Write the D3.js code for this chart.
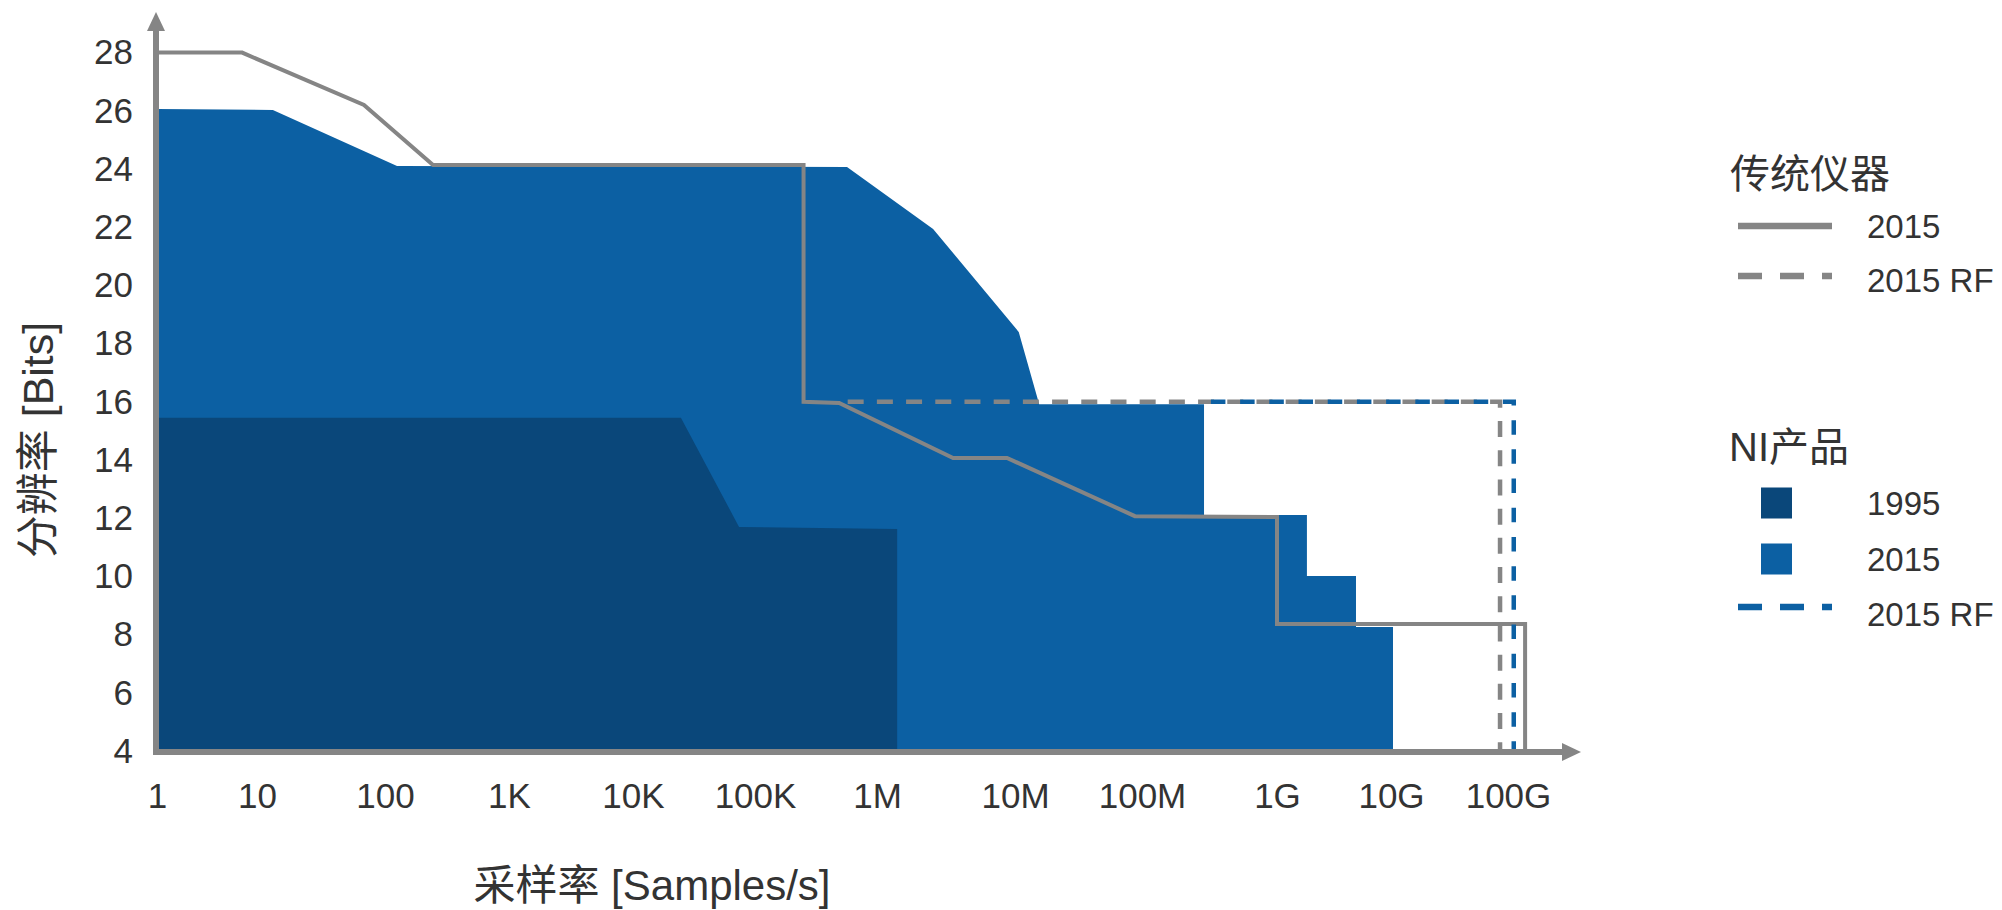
<!DOCTYPE html>
<html><head><meta charset="utf-8">
<script src="https://cdn.jsdelivr.net/npm/d3@7"></script>
<style>
body{margin:0;background:#fff}
svg text{font-family:"Liberation Sans","Noto Sans CJK SC",Arial,sans-serif;fill:#333}
</style>
</head><body>
<svg id="chart" width="2002" height="910"></svg>
<script>
// ---------- data ----------
const xTickRates  = [1, 10, 100, 1e3, 1e4, 1e5, 1e6, 1e7, 1e8, 1e9, 1e10, 1e11];
const xTickLabels = ["1","10","100","1K","10K","100K","1M","10M","100M","1G","10G","100G"];
const yTickValues = [4,6,8,10,12,14,16,18,20,22,24,26,28];

// 传统仪器 2015 (solid grey line)
const instr2015Rates = [1, 7.1, 68.5, 244, 2.5e5, 2.5e5, 4.9e5, 3.56e6, 8.75e6, 8.8e7, 1e9, 1e9, 1.4e11, 1.4e11];
const instr2015Bits  = [28, 28, 26.2, 24.14, 24.14, 16.0, 15.96, 14.07, 14.07, 12.07, 12.04, 8.36, 8.36, 4];
// 传统仪器 2015 RF (dashed grey)
const instrRFRates = [5.75e5, 8.55e10, 8.55e10];
const instrRFBits  = [16, 16, 4];
// NI产品 1995 (dark area)
const ni1995Rates = [1, 2.47e4, 7.4e4, 1.4e6];
const ni1995Bits  = [15.45, 15.45, 11.7, 11.63];
// NI产品 2015 (blue area)
const ni2015Rates = [1, 13.3, 125, 5.68e5, 2.55e6, 1.07e7, 1.55e7, 2.88e8, 2.88e8, 1.83e9, 1.83e9, 4.93e9, 4.93e9, 1.04e10];
const ni2015Bits  = [26.06, 26.03, 24.1, 24.07, 21.94, 18.4, 15.92, 15.92, 12.11, 12.11, 10.01, 10.01, 8.26, 8.26];
// NI产品 2015 RF (dashed blue)
const niRFRates = [3.24e8, 1.12e11, 1.12e11];
const niRFBits  = [16, 16, 4];

const legendInstrTitle = "传统仪器";
const legendInstrItems = ["2015", "2015 RF"];
const legendNITitle = "NI产品";
const legendNIItems = ["1995", "2015", "2015 RF"];
const xTitle = "采样率 [Samples/s]";
const yTitle = "分辨率 [Bits]";

// ---------- layout / style ----------
const C = {dark:"#0a477a", blue:"#0c60a3", grey:"#858585"};
const xTickPx = [157, 257, 385, 509, 633, 755, 877, 1015, 1142, 1277, 1391, 1508];
const zip = (r, b) => r.map((v, i) => ({r: v, b: b[i]}));

const svg = d3.select("#chart");
const xs = d3.scaleLinear().domain(xTickRates.map(Math.log10)).range(xTickPx);
const X = r => xs(Math.log10(r));
const y = d3.scaleLinear().domain([4, 28]).range([751, 52.6]);

const area = d3.area().x(d => X(d.r)).y0(y(4)).y1(d => y(d.b));
const line = d3.line().x(d => X(d.r)).y(d => y(d.b));

// areas
svg.append("path").attr("d", area(zip(ni2015Rates, ni2015Bits))).attr("fill", C.blue);
svg.append("path").attr("d", area(zip(ni1995Rates, ni1995Bits))).attr("fill", C.dark);

// lines
svg.append("path").attr("d", line(zip(instr2015Rates, instr2015Bits)))
  .attr("fill","none").attr("stroke", C.grey).attr("stroke-width", 4).attr("stroke-linejoin","miter");
svg.append("path").attr("d", line(zip(instrRFRates, instrRFBits)))
  .attr("fill","none").attr("stroke", C.grey).attr("stroke-width", 4.5).attr("stroke-dasharray","16,13.2");
svg.append("path").attr("d", line(zip(niRFRates, niRFBits)))
  .attr("fill","none").attr("stroke", C.blue).attr("stroke-width", 4.5).attr("stroke-dasharray","14.5,14.7");

// axes
const yAxis = d3.axisLeft(y).tickValues(yTickValues).tickSize(0).tickPadding(23);
const gy = svg.append("g").attr("transform", "translate(156,0)").call(yAxis);
gy.select(".domain").remove();
gy.selectAll("text").attr("font-size", 35).attr("fill", "#333")
  .style("font-family", '"Liberation Sans",Arial,sans-serif');

const xAxis = d3.axisBottom(xs).tickValues(xTickRates.map(Math.log10))
  .tickFormat((d, i) => xTickLabels[i]).tickSize(0).tickPadding(31);
const gx = svg.append("g").attr("transform", "translate(0,752)").call(xAxis);
gx.select(".domain").remove();
gx.selectAll("text").attr("font-size", 35).attr("fill", "#333")
  .style("font-family", '"Liberation Sans",Arial,sans-serif');

// axis lines with arrows
svg.append("line").attr("x1",156).attr("y1",755).attr("x2",156).attr("y2",28)
  .attr("stroke", C.grey).attr("stroke-width", 6);
svg.append("path").attr("d","M156,12 L165,31 L147,31 Z").attr("fill", C.grey);
svg.append("line").attr("x1",153).attr("y1",752).attr("x2",1566).attr("y2",752)
  .attr("stroke", C.grey).attr("stroke-width", 6);
svg.append("path").attr("d","M1581,752 L1562,743 L1562,761 Z").attr("fill", C.grey);

// axis titles
svg.append("text").attr("x", 652).attr("y", 900).attr("text-anchor","middle")
  .attr("font-size", 42).text(xTitle);
svg.append("text").attr("transform","translate(53,440) rotate(-90)").attr("text-anchor","middle")
  .attr("font-size", 43).text(yTitle);

// legend
const lg = svg.append("g");
lg.append("text").attr("x",1730).attr("y",188).attr("font-size",40).text(legendInstrTitle);
const instrLineY = [226, 276];
const instrTextY = [238, 292];
const instrDash = [null, "24,18"];
legendInstrItems.forEach((t, i) => {
  lg.append("line").attr("x1",1738).attr("x2",1832).attr("y1",instrLineY[i]).attr("y2",instrLineY[i])
    .attr("stroke", C.grey).attr("stroke-width", 6.5).attr("stroke-dasharray", instrDash[i]);
  lg.append("text").attr("x",1867).attr("y",instrTextY[i]).attr("font-size",33).text(t);
});
lg.append("text").attr("x",1729).attr("y",461).attr("font-size",40).text(legendNITitle);
const niFill = [C.dark, C.blue, null];
const niMarkY = [503, 559, 607];
const niTextY = [515, 571, 626];
legendNIItems.forEach((t, i) => {
  if (niFill[i]) {
    lg.append("rect").attr("x",1761).attr("y",niMarkY[i] - 15.5).attr("width",31).attr("height",31).attr("fill", niFill[i]);
  } else {
    lg.append("line").attr("x1",1738).attr("x2",1832).attr("y1",niMarkY[i]).attr("y2",niMarkY[i])
      .attr("stroke", C.blue).attr("stroke-width", 6.5).attr("stroke-dasharray","24,18");
  }
  lg.append("text").attr("x",1867).attr("y",niTextY[i]).attr("font-size",33).text(t);
});
</script>
</body></html>
